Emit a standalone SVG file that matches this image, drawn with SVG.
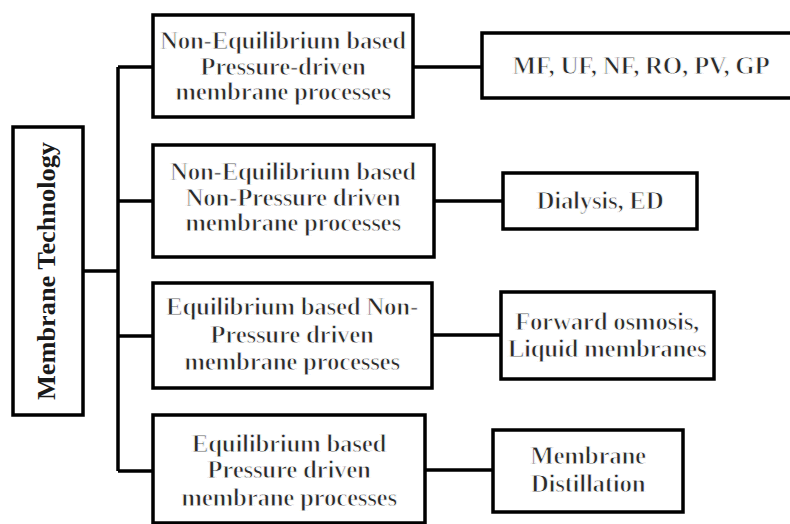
<svg xmlns="http://www.w3.org/2000/svg" width="790" height="524" viewBox="0 0 790 524">
<style>
.box{fill:#fff;stroke:#000;stroke-width:3.5}
.ln{fill:none;stroke:#000;stroke-width:3.5}
.t{font-family:"Liberation Serif","Times New Roman",serif;font-weight:bold;font-size:25px;letter-spacing:-0.3px;fill:#2a2a2a;stroke:#fff;stroke-width:0.85;paint-order:fill;text-anchor:middle}
.v{font-family:"Liberation Serif","Times New Roman",serif;font-size:25px;font-weight:bold;fill:#1a1a1a;text-anchor:middle}
</style>
<rect width="790" height="524" fill="#fff"/>
<g id="connectors">
<path class="ln" d="M118,67 V471"/>
<path class="ln" d="M83,271 H118"/>
<path class="ln" d="M118,67 H153"/>
<path class="ln" d="M118,201 H153"/>
<path class="ln" d="M118,336 H153"/>
<path class="ln" d="M118,471 H153"/>
<path class="ln" d="M413,67 H482"/>
<path class="ln" d="M434,201 H503"/>
<path class="ln" d="M432,335 H501"/>
<path class="ln" d="M425,470 H493"/>
</g>
<g id="root">
<rect class="box" x="13" y="127" width="70" height="288"/>
<text class="v" transform="translate(55,271) rotate(-90)" textLength="258" lengthAdjust="spacingAndGlyphs">Membrane Technology</text>
</g>
<g id="n1">
<rect class="box" x="153" y="15" width="260" height="102"/>
<text class="t" x="283" y="49">Non-Equilibrium based</text>
<text class="t" x="283" y="75">Pressure-driven</text>
<text class="t" x="283" y="100">membrane processes</text>
</g>
<g id="n2">
<rect class="box" x="153" y="145" width="281" height="112"/>
<text class="t" x="293" y="180">Non-Equilibrium based</text>
<text class="t" x="293" y="206">Non-Pressure driven</text>
<text class="t" x="293" y="231">membrane processes</text>
</g>
<g id="n3">
<rect class="box" x="153" y="283" width="279" height="105"/>
<text class="t" x="292" y="315">Equilibrium based Non-</text>
<text class="t" x="292" y="343">Pressure driven</text>
<text class="t" x="292" y="370">membrane processes</text>
</g>
<g id="n4">
<rect class="box" x="153" y="415" width="272" height="108"/>
<text class="t" x="289" y="452">Equilibrium based</text>
<text class="t" x="289" y="478">Pressure driven</text>
<text class="t" x="289" y="506">membrane processes</text>
</g>
<g id="l1">
<rect class="box" x="482" y="33" width="310" height="65"/>
<text class="t" x="641" y="74">MF, UF, NF, RO, PV, GP</text>
</g>
<g id="l2">
<rect class="box" x="503" y="173" width="194" height="56"/>
<text class="t" x="600" y="209">Dialysis, ED</text>
</g>
<g id="l3">
<rect class="box" x="501" y="292" width="213" height="87"/>
<text class="t" x="607" y="330">Forward osmosis,</text>
<text class="t" x="607" y="357">Liquid membranes</text>
</g>
<g id="l4">
<rect class="box" x="493" y="430" width="190" height="82"/>
<text class="t" x="588" y="464">Membrane</text>
<text class="t" x="588" y="492">Distillation</text>
</g>
</svg>
